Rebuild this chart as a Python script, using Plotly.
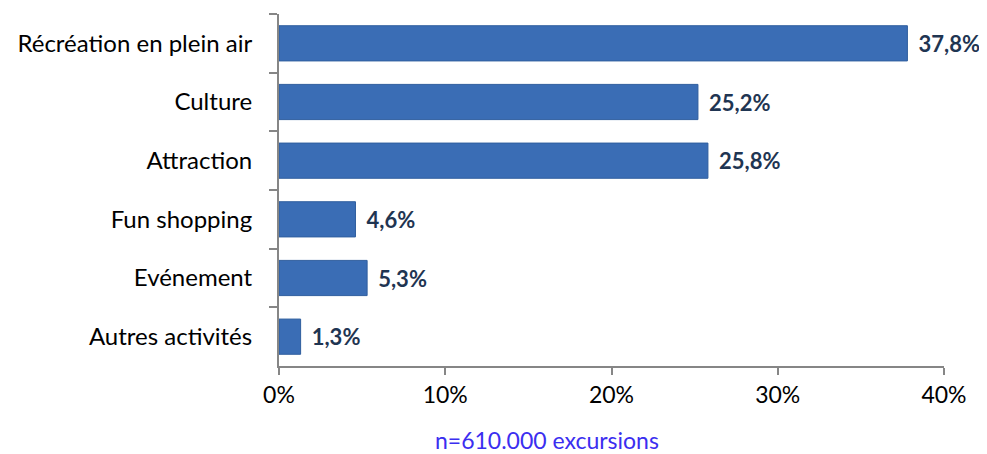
import plotly.graph_objects as go

categories = ["Récréation en plein air", "Culture", "Attraction", "Fun shopping", "Evénement", "Autres activités"]
values = [37.8, 25.2, 25.8, 4.6, 5.3, 1.3]
value_labels = ["37,8%", "25,2%", "25,8%", "4,6%", "5,3%", "1,3%"]
tick_vals = [0, 10, 20, 30, 40]
tick_text = ["0%", "10%", "20%", "30%", "40%"]
footer = "n=610.000 excursions"

font_family = "Lato, 'Open Sans', 'Liberation Sans', sans-serif"

fig = go.Figure(go.Bar(
    y=categories,
    x=values,
    orientation="h",
    text=["\u2009 " + t for t in value_labels],
    textposition="outside",
    cliponaxis=False,
    textfont=dict(family=font_family, size=22, color="#1F3552", weight="bold"),
    marker=dict(color="#3A6DB5", line=dict(color="#2F5E9E", width=1)),
))

# page body has an 8px margin, so the figure is sized/offset to compensate
fig.update_layout(
    width=979, height=446,
    margin=dict(l=271, r=43, t=6, b=88, autoexpand=False),
    paper_bgcolor="white", plot_bgcolor="white",
    bargap=0.40,
    showlegend=False,
    font=dict(family=font_family, size=23, color="#000000"),
    annotations=[dict(
        text=footer, x=0.403, xref="paper", y=-0.21, yref="paper",
        xanchor="center", yanchor="middle",
        showarrow=False, font=dict(family=font_family, size=23, color="#3B2EF0"),
    )],
)

fig.update_xaxes(
    range=[0, 40], tickvals=tick_vals, ticktext=tick_text,
    showgrid=False, zeroline=False,
    showline=True, linecolor="#868686", linewidth=2,
    ticks="outside", ticklen=7, tickcolor="#868686", tickwidth=2,
    tickfont=dict(size=23, color="#000000"), automargin=False,
)
fig.update_yaxes(
    categoryorder="array", categoryarray=categories, autorange="reversed",
    showgrid=False, showline=True, linecolor="#868686", linewidth=2,
    ticks="outside", ticklen=8, tickcolor="#868686", tickwidth=2,
    tickson="boundaries", ticklabelstandoff=20,
    tickfont=dict(size=24, color="#000000"), automargin=False,
)

fig.write_html("out.html")
